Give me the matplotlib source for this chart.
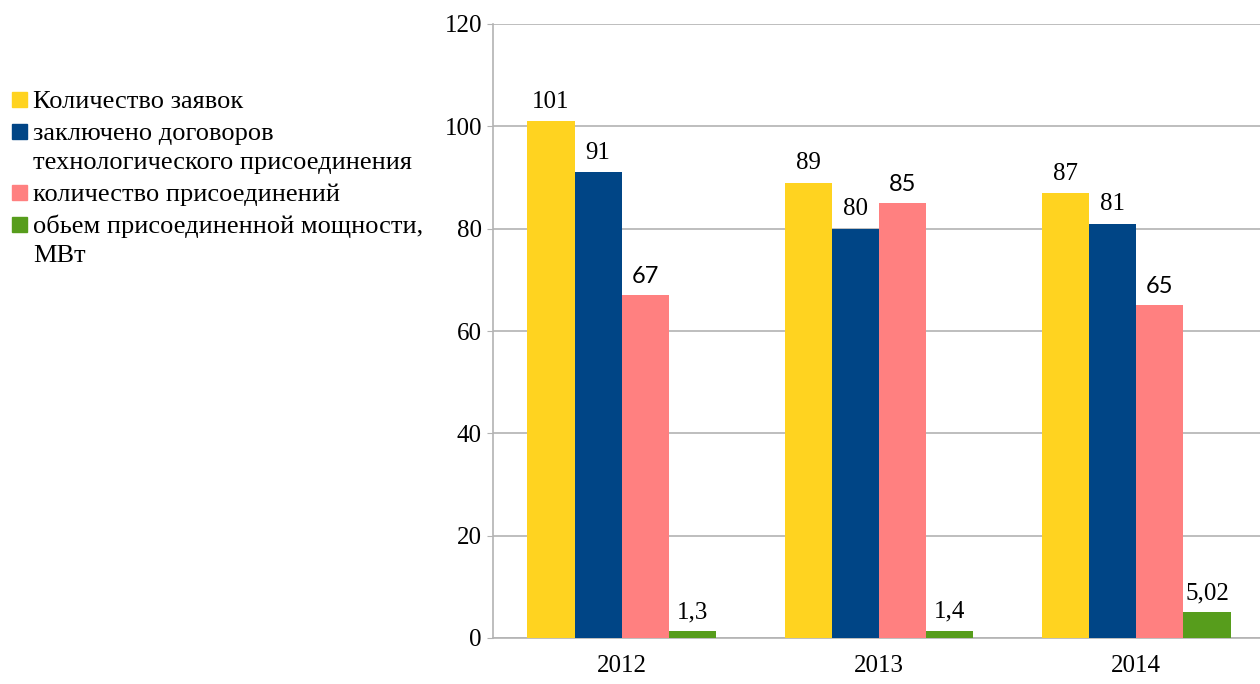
import matplotlib
matplotlib.use("Agg")
import numpy as np
from matplotlib import pyplot as plt
from matplotlib.patches import Rectangle

years = ["2012", "2013", "2014"]
series_names = [
    "Количество заявок",
    "заключено договоров\nтехнологического присоединения",
    "количество присоединений",
    "обьем присоединенной мощности,\nМВт",
]
zayavki = [101, 89, 87]
dogovory = [91, 80, 81]
prisoed = [67, 85, 65]
moshnost = [1.3, 1.4, 5.02]
moshnost_labels = ["1,3", "1,4", "5,02"]

colors = ["#FFD320", "#004586", "#FF8080", "#579D1C"]

plt.rcParams['font.family'] = ['Liberation Serif', 'DejaVu Serif']

W, H = 1260, 684
fig = plt.figure(figsize=(W / 100, H / 100), dpi=100)
ax = fig.add_axes([493 / W, 46 / H, 772 / W, 614 / H])

x = np.arange(len(years))
w = 0.183
all_series = [zayavki, dogovory, prisoed, moshnost]
for i, vals in enumerate(all_series):
    bars = ax.bar(x + (i - 1.5) * w, vals, width=w, color=colors[i], zorder=3)
    if i == 3:
        ax.bar_label(bars, labels=moshnost_labels, padding=6, fontsize=18)
    elif i == 2:
        ax.bar_label(bars, padding=6, fontsize=17, family=['Lato', 'DejaVu Sans'])
    else:
        ax.bar_label(bars, padding=6, fontsize=18)

ax.set_xlim(-0.5, 2.5)
ax.set_ylim(0, 120)
ax.set_yticks(range(0, 121, 20))
ax.set_xticks(x)
ax.set_xticklabels(years)
ax.tick_params(axis='both', labelsize=18, color='#b3b3b3')
ax.tick_params(axis='x', length=0, pad=12)
ax.tick_params(axis='y', length=4, pad=4)
ax.grid(axis='y', color='#b3b3b3', linewidth=1.2, zorder=0)
for s in ['top', 'right']:
    ax.spines[s].set_visible(False)
for s in ['left', 'bottom']:
    ax.spines[s].set_color('#b3b3b3')
    ax.spines[s].set_linewidth(1.2)

# legend on the left, drawn line by line (baselines in pixels from top)
base = 108
for name, c in zip(series_names, colors):
    fig.patches.append(Rectangle((12 / W, 1 - (base - 1) / H), 15 / W, 15 / H,
                                 transform=fig.transFigure, color=c))
    lines = name.split("\n")
    for j, line in enumerate(lines):
        fig.text(33 / W, 1 - (base + 29 * j) / H, line, fontsize=19,
                 va='baseline', ha='left', transform=fig.transFigure)
    base += 29 * (len(lines) - 1) + 32

fig.savefig("out.png", dpi=100)
